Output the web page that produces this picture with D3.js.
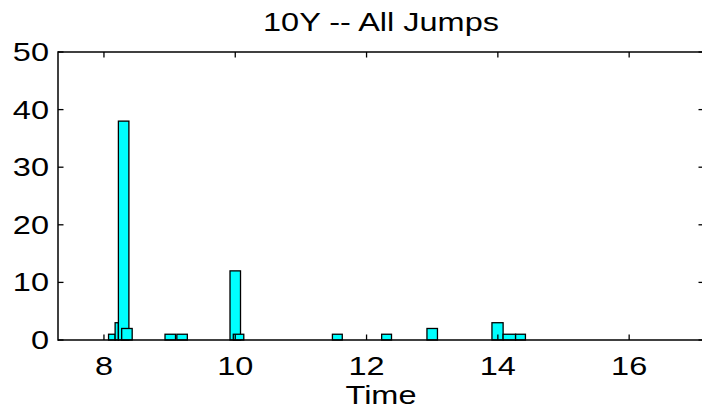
<!DOCTYPE html>
<html>
<head>
<meta charset="utf-8">
<script src="https://d3js.org/d3.v7.min.js"></script>
<style>
  html, body { margin: 0; padding: 0; background: #fff; overflow: hidden; }
  svg { display: block; }
  svg text { font-family: "Liberation Sans", Arial, sans-serif; fill: #000; }
</style>
</head>
<body>
<svg id="main-svg" width="702" height="413"></svg>
<script>
// histogram bins: left edge, right edge (in time units) and count
let BIN_LO = [8.07, 8.17, 8.22, 8.27, 8.93, 9.11, 9.92, 9.97, 11.48, 12.23, 12.92, 13.91, 14.08, 14.27];
let BIN_HI = [8.17, 8.22, 8.38, 8.43, 9.09, 9.27, 10.08, 10.13, 11.63, 12.38, 13.08, 14.08, 14.27, 14.42];
let COUNTS = [1, 3, 38, 2, 1, 1, 12, 1, 1, 1, 2, 3, 1, 1];

let X_TICKS = [8, 10, 12, 14, 16];
let Y_TICKS = [0, 10, 20, 30, 40, 50];

let TITLE = '10Y -- All Jumps';
let X_LABEL = 'Time';

let BAR_FILL = '#00ffff';
let FONT_SIZE = 25;
let TEXT_STRETCH = 1.3; // the figure was stretched sideways, text too
let TICK_LEN = 5.5;

let svg = d3.select('#main-svg');
let plotLeft = 58, plotRight = 704, plotTop = 52, plotBottom = 340;

let x = d3.scaleLinear().domain([7.3, 17.14]).range([plotLeft, plotRight]);
let y = d3.scaleLinear().domain([0, 50]).range([plotBottom, plotTop]);

svg.append('rect').attr('width', 702).attr('height', 413).attr('fill', '#fff');

let bins = COUNTS.map((c, i) => ({ lo: BIN_LO[i], hi: BIN_HI[i], n: c }));

// the bars
svg.append('g').selectAll('rect').data(bins).enter().append('rect')
    .attr('x', d => x(d.lo))
    .attr('y', d => y(d.n))
    .attr('width', d => x(d.hi) - x(d.lo))
    .attr('height', d => y(0) - y(d.n))
    .attr('fill', BAR_FILL)
    .attr('stroke', '#000')
    .attr('stroke-width', 1.3);

// axis lines: top, left, bottom (the right one is cut off by the picture edge)
let frame = svg.append('g').attr('stroke', '#000').attr('stroke-width', 1.5);
frame.append('line').attr('x1', plotLeft).attr('x2', plotRight).attr('y1', plotTop).attr('y2', plotTop);
frame.append('line').attr('x1', plotLeft).attr('x2', plotRight).attr('y1', plotBottom).attr('y2', plotBottom);
frame.append('line').attr('x1', plotLeft).attr('x2', plotLeft).attr('y1', plotTop - 0.75).attr('y2', plotBottom + 0.75);

// inward ticks
let ticks = svg.append('g').attr('stroke', '#000').attr('stroke-width', 1.3);
X_TICKS.forEach(t => {
    ticks.append('line').attr('x1', x(t)).attr('x2', x(t)).attr('y1', plotBottom).attr('y2', plotBottom - TICK_LEN);
    ticks.append('line').attr('x1', x(t)).attr('x2', x(t)).attr('y1', plotTop).attr('y2', plotTop + TICK_LEN);
});
Y_TICKS.forEach(t => {
    ticks.append('line').attr('x1', plotLeft).attr('x2', plotLeft + TICK_LEN).attr('y1', y(t)).attr('y2', y(t));
    ticks.append('line').attr('x1', plotRight).attr('x2', plotRight - TICK_LEN).attr('y1', y(t)).attr('y2', y(t));
});

function label(txt, px, py, anchor) {
    svg.append('text')
        .attr('transform', `translate(${px},${py}) scale(${TEXT_STRETCH},1)`)
        .attr('text-anchor', anchor)
        .attr('font-size', FONT_SIZE)
        .text(txt);
}

X_TICKS.forEach(t => label(t, x(t), 375, 'middle'));
Y_TICKS.forEach(t => label(t, 49, y(t) + 9, 'end'));

label(TITLE, (plotLeft + plotRight) / 2, 31, 'middle');
label(X_LABEL, (plotLeft + plotRight) / 2, 404, 'middle');
</script>
</body>
</html>
